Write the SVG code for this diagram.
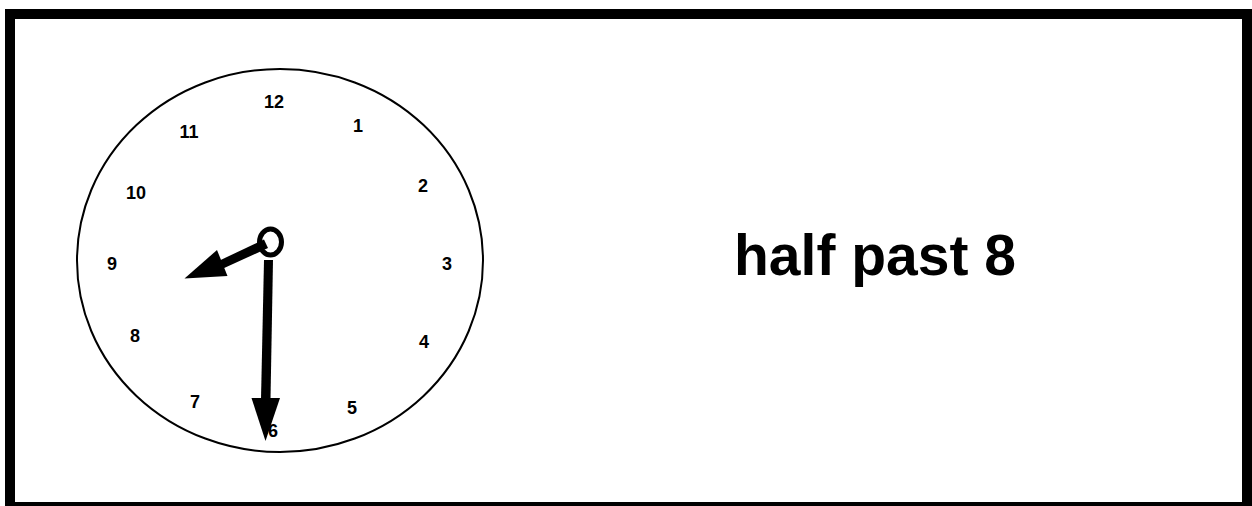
<svg xmlns="http://www.w3.org/2000/svg" width="1252" height="506" viewBox="0 0 1252 506">
  <style>
    .num { font-family: "Liberation Sans", Arial, sans-serif; font-weight: bold; font-size: 18px; fill: #000; text-anchor: middle; }
    .title { font-family: "Liberation Sans", Arial, sans-serif; font-weight: bold; font-size: 57px; fill: #000; text-anchor: middle; }
  </style>
  <rect x="0" y="0" width="1252" height="506" fill="#fff"/>
  <rect id="frame" x="10" y="14" width="1237" height="493" fill="none" stroke="#000" stroke-width="10"/>
  <g id="clock">
    <ellipse cx="280" cy="260.5" rx="203" ry="191.5" fill="#fff" stroke="#000" stroke-width="2"/>
    <g id="numbers">
      <text class="num" x="274" y="107.5">12</text>
      <text class="num" x="358" y="132">1</text>
      <text class="num" x="423" y="192">2</text>
      <text class="num" x="447" y="270">3</text>
      <text class="num" x="424" y="348">4</text>
      <text class="num" x="352" y="414">5</text>
      <text class="num" x="273" y="437">6</text>
      <text class="num" x="195" y="408">7</text>
      <text class="num" x="135" y="342">8</text>
      <text class="num" x="112" y="270">9</text>
      <text class="num" x="136" y="198.5">10</text>
      <text class="num" x="189" y="138">11</text>
    </g>
  </g>
  <g id="hands">
    <ellipse id="hub" cx="270.5" cy="242" rx="11" ry="13" fill="#fff" stroke="#000" stroke-width="5"/>
    <g id="minute-hand">
      <polygon points="264,260 273,260 270.5,399 261,399" fill="#000"/>
      <polygon points="251.5,398 280,398 265.5,441" fill="#000"/>
    </g>
    <g id="hour-hand">
      <polygon points="264,239.5 268,248 222,269 218.5,261" fill="#000"/>
      <polygon points="217,250 227.5,276 184.5,278.5" fill="#000"/>
    </g>
  </g>
  <text id="label" class="title" x="875" y="275">half past 8</text>
</svg>
